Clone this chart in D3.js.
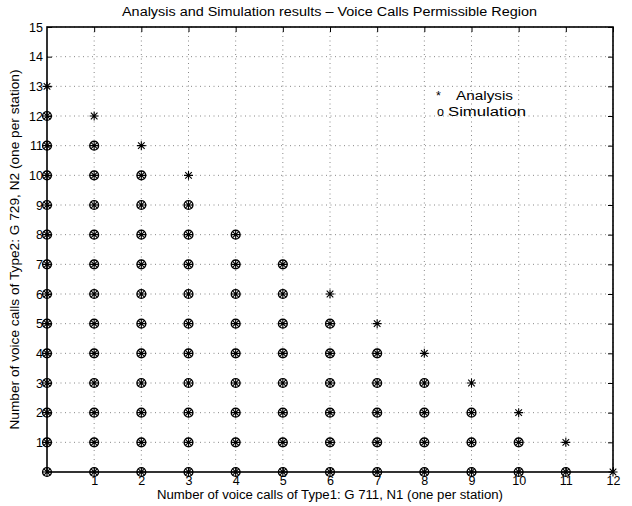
<!DOCTYPE html>
<html>
<head>
<meta charset="utf-8">
<script src="https://cdn.jsdelivr.net/npm/d3@7"></script>
<style>
  body { margin: 0; background: #fff; }
  text { font-family: "Liberation Sans", Arial, sans-serif; fill: #000; }
</style>
</head>
<body>
<svg id="chart" width="632" height="506"></svg>
<script>
// N1 calls on x axis
const n1 = [0, 1, 2, 3, 4, 5, 6, 7, 8, 9, 10, 11, 12]
// highest permissible N2 for each N1 (the region is filled from 0 up)
const analysisMax = [13, 12, 11, 10, 8, 7, 6, 5, 4, 3, 2, 1, 0]
const simulationMax = [12, 11, 10, 9, 8, 7, 5, 4, 3, 2, 1, 0, null]
const xTicks = [1, 2, 3, 4, 5, 6, 7, 8, 9, 10, 11, 12]
const yTicks = [1, 2, 3, 4, 5, 6, 7, 8, 9, 10, 11, 12, 13, 14, 15]

let svg = d3.select("#chart"),
    margin = { top: 27, right: 19, bottom: 34, left: 47 },
    width = +svg.attr("width") - margin.left - margin.right,
    height = +svg.attr("height") - margin.top - margin.bottom

let g = svg.append("g").attr("transform", "translate(" + margin.left + "," + margin.top + ")");

let x = d3.scaleLinear().domain([0, 12]).range([0, width]);
let y = d3.scaleLinear().domain([0, 15]).range([height, 0]);

// dotted grid
g.append("g").selectAll("line").data(xTicks).join("line")
    .attr("x1", d => x(d)).attr("x2", d => x(d))
    .attr("y1", 0).attr("y2", height)
    .attr("stroke", "#888").attr("stroke-dasharray", "1,3.5");
g.append("g").selectAll("line").data(yTicks).join("line")
    .attr("x1", 0).attr("x2", width)
    .attr("y1", d => y(d)).attr("y2", d => y(d))
    .attr("stroke", "#888").attr("stroke-dasharray", "1,3.5");

// axes with inward ticks, MATLAB box
g.append("g")
    .attr("transform", "translate(0," + height + ")")
    .call(d3.axisBottom(x).tickValues(xTicks).tickSize(-5).tickPadding(4));
g.append("g")
    .call(d3.axisLeft(y).tickValues(yTicks).tickSize(-5).tickPadding(4));
g.append("g")
    .call(d3.axisTop(x).tickValues(xTicks).tickSize(-5).tickFormat(""));
g.append("g")
    .attr("transform", "translate(" + width + ",0)")
    .call(d3.axisRight(y).tickValues(yTicks).tickSize(-5).tickFormat(""));

svg.selectAll(".domain").remove();
svg.selectAll(".tick line").attr("stroke", "#000");
svg.selectAll(".tick text").style("font-size", "12.5px").style("font-family", "Liberation Sans, Arial, sans-serif");

g.append("rect")
    .attr("width", width).attr("height", height)
    .attr("fill", "none").attr("stroke", "#000").attr("stroke-width", 1.6);

// expand each column to points
let simPts = [], anaPts = [];
n1.forEach((n, i) => {
    if (simulationMax[i] != null) d3.range(simulationMax[i] + 1).forEach(v => simPts.push([n, v]));
    if (analysisMax[i] != null) d3.range(analysisMax[i] + 1).forEach(v => anaPts.push([n, v]));
});

const star = "M-4.5,0L4.5,0M0,-4.5L0,4.5M-3.3,-3.3L3.3,3.3M-3.3,3.3L3.3,-3.3";

g.append("g").selectAll("circle").data(simPts).join("circle")
    .attr("cx", d => x(d[0])).attr("cy", d => y(d[1]))
    .attr("r", 4.4)
    .attr("fill", "none").attr("stroke", "#000").attr("stroke-width", 1.4);

g.append("g").selectAll("path").data(anaPts).join("path")
    .attr("transform", d => "translate(" + x(d[0]) + "," + y(d[1]) + ")")
    .attr("d", star)
    .attr("fill", "none").attr("stroke", "#000").attr("stroke-width", 1.1);

// legend (plain text like the original)
svg.append("text").attr("x", 436).attr("y", 100).style("font-size", "12.5px").text("*");
svg.append("text").attr("x", 456).attr("y", 100).attr("textLength", 57).attr("lengthAdjust", "spacingAndGlyphs")
    .style("font-size", "12.5px").text("Analysis");
svg.append("text").attr("x", 437).attr("y", 116).style("font-size", "12.5px").text("o");
svg.append("text").attr("x", 448).attr("y", 116).attr("textLength", 78).attr("lengthAdjust", "spacingAndGlyphs")
    .style("font-size", "12.5px").text("Simulation");

// labels (glyphs stretched like the original export)
svg.append("text")
    .attr("x", 122).attr("y", 16)
    .attr("textLength", 415).attr("lengthAdjust", "spacingAndGlyphs")
    .style("font-size", "12px")
    .text("Analysis and Simulation results \u2013  Voice Calls Permissible Region");
svg.append("text")
    .attr("x", 157).attr("y", 499)
    .attr("textLength", 346).attr("lengthAdjust", "spacingAndGlyphs")
    .style("font-size", "12px")
    .text("Number of voice calls of Type1: G 711, N1 (one per station)");
svg.append("text")
    .attr("transform", "translate(19," + (margin.top + height / 2 + 180) + ") rotate(-90)")
    .attr("textLength", 360).attr("lengthAdjust", "spacingAndGlyphs")
    .style("font-size", "12px")
    .text("Number of voice calls of Type2: G 729, N2 (one per station)");
</script>
</body>
</html>
